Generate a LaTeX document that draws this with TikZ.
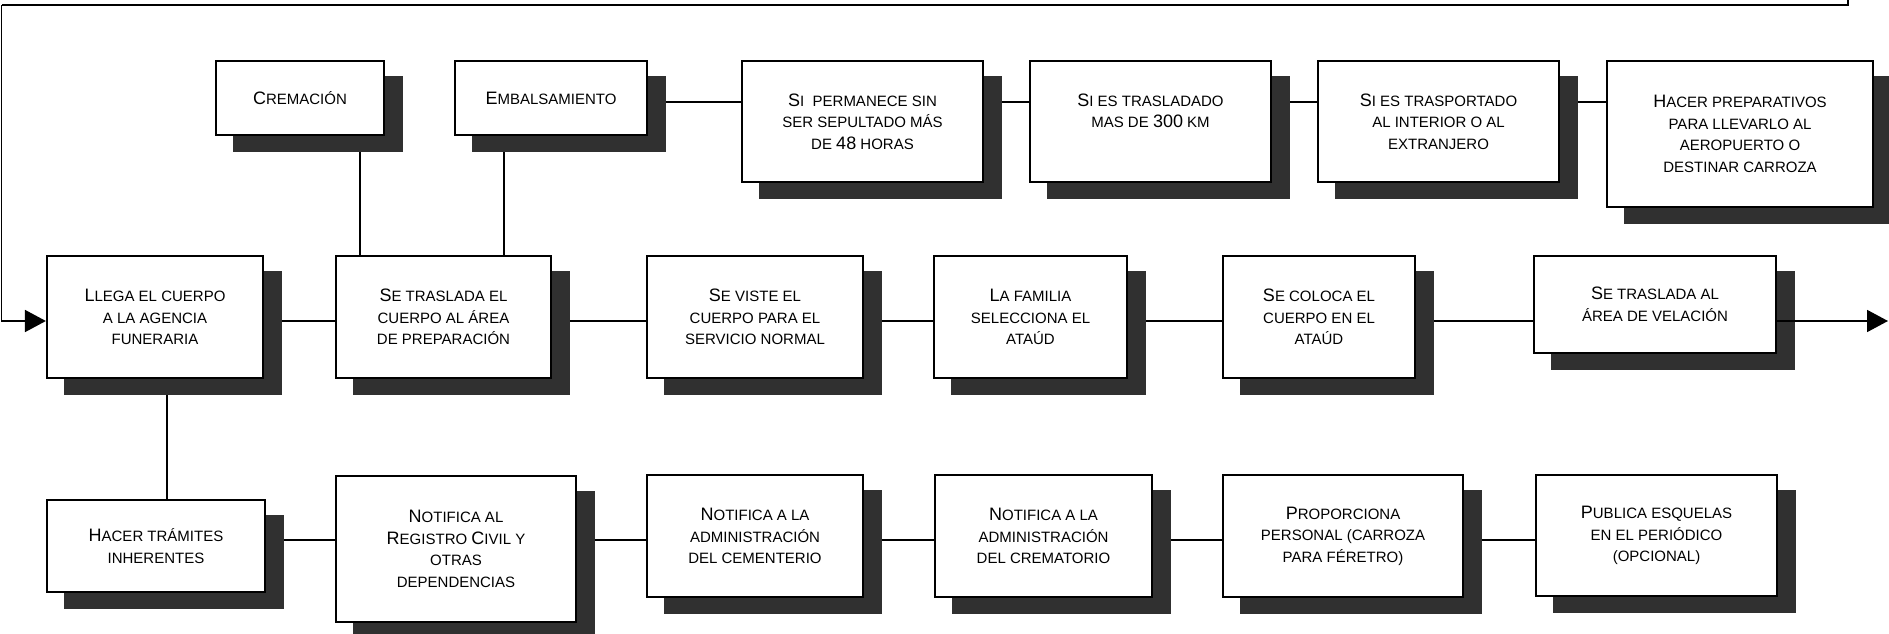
\documentclass[tikz,border=0pt]{standalone}
\usepackage{fontspec}
\setmainfont{Liberation Sans}
\usetikzlibrary{shadows,arrows.meta,backgrounds}
\definecolor{shad}{HTML}{303030}
\newcommand{\B}[1]{{\fontsize{18}{21.5}\selectfont #1}}
\tikzset{
 box/.style={draw=black, line width=2.2pt, fill=white, inner sep=0pt, align=center,
   font=\fontsize{15}{21.5}\selectfont, text=black,
   general shadow={shadow xshift=18pt, shadow yshift=-16pt, fill=shad, draw=shad}},
 conn/.style={draw=black, line width=1.8pt},
 arr/.style={conn, -{Triangle[length=21pt,width=22pt]}},
}
\begin{document}
\begin{tikzpicture}[x=1pt,y=-1pt]
\useasboundingbox (0,0) rectangle (1889,634);
% top row
\node[box, minimum width=168pt, minimum height=74pt] (crem) at (300,98) {\B{C}REMACIÓN};
\node[box, minimum width=192pt, minimum height=74pt] (emb) at (551,98) {\B{E}MBALSAMIENTO};
\node[box, minimum width=241pt, minimum height=121pt] (perm) at (862.5,121.5) {\B{S}I\ \ PERMANECE SIN\\SER SEPULTADO MÁS\\DE \B{48} HORAS};
\node[box, minimum width=241pt, minimum height=121pt] (trasl) at (1150.5,121.5) {\B{S}I ES TRASLADADO\\MAS DE \B{300} KM\\\mbox{}};
\node[box, minimum width=241pt, minimum height=121pt] (trasp) at (1438.5,121.5) {\B{S}I ES TRASPORTADO\\AL INTERIOR O AL\\EXTRANJERO};
\node[box, minimum width=266pt, minimum height=146pt] (prep) at (1740,134) {\B{H}ACER PREPARATIVOS\\PARA LLEVARLO AL\\AEROPUERTO O\\DESTINAR CARROZA};
% middle row
\node[box, minimum width=216pt, minimum height=122pt] (llega) at (155,317) {\B{L}LEGA EL CUERPO\\A LA AGENCIA\\FUNERARIA};
\node[box, minimum width=215pt, minimum height=122pt] (trasla) at (443.5,317) {\B{S}E TRASLADA EL\\CUERPO AL ÁREA\\DE PREPARACIÓN};
\node[box, minimum width=216pt, minimum height=122pt] (viste) at (755,317) {\B{S}E VISTE EL\\CUERPO PARA EL\\SERVICIO NORMAL};
\node[box, minimum width=193pt, minimum height=122pt] (fam) at (1030.5,317) {\B{L}A FAMILIA\\SELECCIONA EL\\ATAÚD};
\node[box, minimum width=192pt, minimum height=122pt] (coloca) at (1319,317) {\B{S}E COLOCA EL\\CUERPO EN EL\\ATAÚD};
\node[box, minimum width=242pt, minimum height=97pt] (velac) at (1655,304.5) {\B{S}E TRASLADA AL\\ÁREA DE VELACIÓN};
% bottom row
\node[box, minimum width=218pt, minimum height=92pt] (tram) at (156,546) {\B{H}ACER TRÁMITES\\INHERENTES};
\node[box, minimum width=240pt, minimum height=146pt] (reg) at (456,549) {\B{N}OTIFICA AL\\\B{R}EGISTRO \B{C}IVIL Y\\OTRAS\\DEPENDENCIAS};
\node[box, minimum width=216pt, minimum height=122pt] (cem) at (755,536) {\B{N}OTIFICA A LA\\ADMINISTRACIÓN\\DEL CEMENTERIO};
\node[box, minimum width=217pt, minimum height=122pt] (crem2) at (1043.5,536) {\B{N}OTIFICA A LA\\ADMINISTRACIÓN\\DEL CREMATORIO};
\node[box, minimum width=240pt, minimum height=122pt] (prop) at (1343,536) {\B{P}ROPORCIONA\\PERSONAL (CARROZA\\PARA FÉRETRO)};
\node[box, minimum width=241pt, minimum height=121pt] (pub) at (1656.5,535.5) {\B{P}UBLICA ESQUELAS\\EN EL PERIÓDICO\\(OPCIONAL)};
% helper coordinates
\coordinate (yT) at (0,102);
\coordinate (yM) at (0,321);
\coordinate (yB) at (0,540);
\coordinate (xA) at (360,0);
\coordinate (xE) at (504,0);
\coordinate (xL) at (167,0);
\coordinate (topR) at (1848,-3);
\coordinate (cornR) at (1848,5);
\coordinate (cornL) at (1.5,5);
\coordinate (outR) at (1888,321);
\begin{scope}[on background layer]
\draw[conn] (emb.east |- yT) -- (perm.west |- yT);
\draw[conn] (perm.east |- yT) -- (trasl.west |- yT);
\draw[conn] (trasl.east |- yT) -- (trasp.west |- yT);
\draw[conn] (trasp.east |- yT) -- (prep.west |- yT);
\draw[conn] (crem.south -| xA) -- (trasla.north -| xA);
\draw[conn] (emb.south -| xE) -- (trasla.north -| xE);
\draw[conn] (llega.south -| xL) -- (tram.north -| xL);
\draw[conn] (llega.east |- yM) -- (trasla.west |- yM);
\draw[conn] (trasla.east |- yM) -- (viste.west |- yM);
\draw[conn] (viste.east |- yM) -- (fam.west |- yM);
\draw[conn] (fam.east |- yM) -- (coloca.west |- yM);
\draw[conn] (coloca.east |- yM) -- (velac.west |- yM);
\draw[conn] (tram.east |- yB) -- (reg.west |- yB);
\draw[conn] (reg.east |- yB) -- (cem.west |- yB);
\draw[conn] (cem.east |- yB) -- (crem2.west |- yB);
\draw[conn] (crem2.east |- yB) -- (prop.west |- yB);
\draw[conn] (prop.east |- yB) -- (pub.west |- yB);
\end{scope}
\draw[arr] (velac.east |- yM) -- (outR);
\draw[conn, line width=2pt] (topR) -- (cornR) -- (cornL);
\draw[arr] (cornL) |- (llega.west |- yM);
\end{tikzpicture}
\end{document}
